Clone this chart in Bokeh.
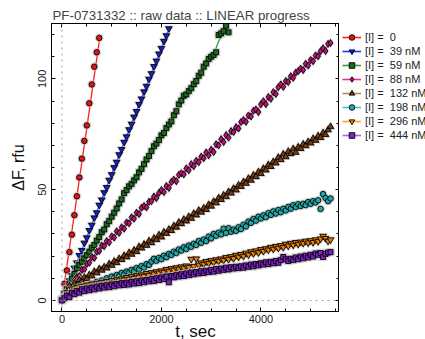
from bokeh.plotting import figure
from bokeh.layouts import row
from bokeh.models import (LinearAxis, Span, Legend, LegendItem, Range1d,
                          SingleIntervalTicker, CustomJSTickFormatter)
from bokeh.embed import file_html
from bokeh.resources import INLINE

TITLE = "PF-0731332 :: raw data :: LINEAR progress"
labels = ["[I] =  0", "[I] =  39 nM", "[I] =  59 nM", "[I] =  88 nM",
          "[I] =  132 nM", "[I] =  198 nM", "[I] =  296 nM", "[I] =  444 nM"]

# sampling times (s), every 50 s
t_all = list(range(0, 5401, 50))

y_0 = [0.5, 7.5, 13.5, 21.8, 29.7, 38.5, 47.0, 55.5, 64.0, 72.0, 79.0, 89.0,
       97.5, 105.5, 112.0, 118.5]
y_39 = [0.3, 3.2, 5.4, 8.9, 11.2, 14.6, 17.0, 20.3, 22.6, 25.9, 28.3, 31.6, 34.0,
        37.3, 39.6, 43.0, 45.4, 48.7, 51.0, 54.3, 56.8, 60.0, 62.4, 65.8, 68.2,
        71.4, 73.9, 77.1, 79.6, 82.8, 85.3, 88.5, 91.0, 94.2, 96.7, 99.9, 102.4,
        105.6, 108.1, 111.3, 113.8, 117.0, 119.5, 122.7]
y_59 = [0.5, 3.0, 5.0, 7.5, 9.8, 12.0, 14.5, 16.0, 17.5, 19.0, 20.5, 22.0, 23.8,
        25.0, 27.0, 28.6, 30.8, 32.0, 34.4, 35.8, 37.8, 39.6, 41.5, 43.8, 45.6,
        48.4, 49.8, 51.5, 52.6, 54.2, 55.6, 57.8, 59.4, 61.5, 63.6, 65.2, 67.4,
        69.6, 70.8, 72.4, 74.5, 75.6, 77.8, 79.4, 80.8, 83.6, 85.4, 88.5, 90.2,
        92.4, 93.0, 94.5, 95.8, 97.6, 99.0, 101.4, 102.8, 105.5, 107.0, 109.0,
        110.0, 110.8, 112.0, 119.8, 120.5, 121.5, 124.0, 121.0]
y_88 = [0.5, 2.8, 3.5, 6.0, 6.2, 9.0, 10.5, 11.0, 13.8, 14.0, 16.5, 17.0, 19.5,
        19.2, 22.0, 22.3, 24.8, 24.5, 26.8, 26.2, 28.9, 28.4, 31.2, 30.5, 33.0,
        32.4, 35.2, 34.8, 37.5, 36.9, 39.6, 39.0, 41.8, 42.6, 42.0, 44.5, 44.8,
        46.9, 46.2, 48.5, 49.8, 48.9, 51.6, 50.8, 53.4, 54.5, 53.8, 56.7, 57.4,
        56.9, 59.6, 58.8, 61.5, 60.6, 63.0, 62.4, 64.9, 64.2, 66.8, 65.5, 68.0,
        67.0, 70.5, 70.0, 72.8, 71.5, 74.6, 73.5, 76.4, 76.0, 78.2, 77.6, 80.5,
        81.4, 80.6, 83.5, 83.0, 85.6, 86.2, 85.0, 88.5, 89.9, 88.6, 91.8, 91.0,
        94.0, 93.2, 96.2, 97.5, 96.4, 99.0, 98.6, 101.2, 100.5, 102.8, 103.5,
        104.6, 104.0, 106.8, 106.0, 108.5, 108.0, 110.6, 110.2, 112.5, 113.8,
        112.6, 115.8, 116.2]
y_132 = [0.3, 2.5, 4.0, 6.5, 5.5, 7.8, 7.0, 9.2, 8.6, 10.4, 9.8, 11.5, 11.0, 13.0,
         12.4, 14.2, 13.6, 15.0, 14.6, 16.4, 15.8, 17.6, 17.0, 18.8, 18.4, 20.2,
         19.6, 21.5, 20.8, 22.6, 22.0, 24.2, 23.6, 25.3, 24.8, 26.8, 26.0, 28.0,
         27.4, 29.5, 28.6, 30.8, 30.2, 32.0, 31.5, 33.6, 33.0, 35.2, 34.6, 36.5,
         35.8, 37.8, 37.0, 39.2, 38.5, 40.6, 39.8, 41.6, 41.0, 43.2, 42.5, 44.6,
         44.0, 46.2, 45.5, 47.5, 46.8, 49.0, 48.4, 50.5, 49.8, 52.0, 51.4, 53.5,
         52.8, 55.0, 54.2, 56.5, 55.8, 58.0, 57.2, 59.5, 58.8, 61.2, 60.4, 62.6,
         62.0, 64.5, 63.5, 66.0, 64.8, 67.2, 66.2, 68.4, 66.8, 69.2, 68.5, 70.5,
         69.8, 71.6, 71.0, 73.0, 72.2, 74.2, 73.5, 75.6, 74.8, 77.0, 78.4]
y_198 = [0.5, 1.5, 2.8, 2.2, 4.0, 3.5, 5.0, 4.6, 6.2, 5.4, 6.8, 6.2, 7.5, 7.0, 8.4,
         7.8, 9.0, 8.6, 10.0, 9.4, 10.8, 10.2, 11.5, 11.0, 12.4, 11.8, 13.0, 12.6,
         13.8, 13.2, 14.6, 14.0, 15.5, 14.8, 16.4, 16.0, 17.5, 18.8, 17.9, 19.2,
         18.6, 20.2, 19.5, 21.0, 20.5, 22.0, 21.4, 23.0, 22.5, 24.0, 23.2, 24.8,
         24.2, 25.6, 25.0, 26.8, 26.0, 27.5, 26.8, 28.8, 28.0, 30.0, 29.2, 30.6,
         29.8, 32.4, 30.5, 32.6, 31.0, 32.0, 31.4, 33.0, 32.2, 34.2, 33.4, 35.6,
         35.0, 36.8, 36.0, 37.8, 37.0, 38.4, 37.6, 39.4, 38.6, 40.2, 39.2, 40.8,
         39.8, 41.4, 40.6, 42.2, 41.4, 43.0, 42.2, 43.4, 42.6, 43.6, 43.0, 44.4,
         43.6, 44.8, 44.2, 45.2, 41.3, 48.0, 46.2, 44.8, 46.0]
y_296 = [0.2, 1.5, 3.6, 3.0, 5.2, 4.4, 5.8, 5.0, 6.4, 5.6, 7.0, 6.2, 7.4, 6.6, 7.8,
         7.0, 8.2, 7.4, 8.6, 7.8, 9.0, 8.2, 9.4, 8.8, 9.8, 9.2, 10.4, 9.6, 10.8,
         10.0, 11.2, 10.6, 11.6, 11.0, 12.2, 11.4, 12.6, 12.0, 13.0, 12.4, 13.4,
         12.8, 14.0, 13.2, 14.4, 13.8, 14.8, 14.2, 15.2, 14.6, 15.6, 15.0, 18.6,
         15.4, 18.8, 16.0, 17.0, 16.4, 17.6, 16.8, 18.0, 17.2, 18.4, 17.8, 18.8,
         18.2, 19.4, 18.6, 19.8, 19.0, 20.4, 19.6, 20.8, 20.0, 21.4, 20.6, 22.0,
         21.2, 22.4, 21.6, 23.0, 22.2, 23.4, 22.8, 24.0, 23.2, 24.4, 23.6, 24.8,
         24.0, 25.4, 24.6, 25.8, 25.0, 26.2, 25.4, 26.4, 25.8, 26.8, 26.0, 27.0,
         26.2, 27.4, 26.6, 27.8, 29.0, 28.0, 26.8, 27.4]
y_444 = [0.0, 1.0, 2.2, 1.5, 3.4, 2.8, 4.2, 3.5, 5.0, 4.2, 5.4, 4.6, 5.8, 5.0, 6.2,
         5.4, 6.6, 5.8, 6.8, 6.0, 7.2, 6.4, 7.4, 6.8, 7.8, 7.0, 8.0, 7.2, 8.4, 7.6,
         8.6, 7.8, 9.0, 8.2, 9.2, 8.6, 9.6, 8.8, 10.0, 9.2, 10.4, 9.6, 10.8, 8.2,
         11.0, 10.4, 11.4, 10.8, 11.8, 11.0, 12.2, 11.4, 12.6, 11.8, 12.8, 12.2,
         13.2, 12.4, 13.4, 12.8, 13.8, 13.0, 14.2, 13.4, 14.4, 13.8, 14.8, 14.0,
         15.0, 14.4, 15.2, 14.6, 15.4, 14.8, 15.8, 15.2, 16.2, 15.4, 16.4, 15.8,
         16.8, 16.2, 17.2, 16.4, 17.4, 16.8, 17.8, 17.0, 18.2, 19.6, 18.6, 17.8,
         18.8, 18.2, 19.4, 18.6, 19.8, 19.0, 20.2, 19.4, 20.6, 19.8, 21.2, 20.6,
         21.4, 19.6, 21.0, 21.6, 21.8]

# fitted progress curves
fit_t_0 = [0, 760]
fit_y_0 = [0.0, 118.5]
fit_t_39 = [0, 2150]
fit_y_39 = [0.0, 122.7]
fit_t_59 = [0, 340, 670, 1010, 1260, 1500, 1865, 2200, 2450, 2800, 3050, 3150, 3350]
fit_y_59 = [0, 15, 26, 38, 48.5, 56, 69.5, 81, 91.5, 103, 111, 117, 124]
fit_t_88 = [0, 400, 800, 1200, 1600, 2000, 2400, 2800, 3200, 3600, 4000, 4400, 4800, 5200, 5400]
fit_y_88 = [0, 13, 24, 32, 41, 49, 57, 64, 72, 80, 88, 97, 104, 112, 116]
fit_t_132 = [0, 200, 400, 800, 1200, 1600, 2000, 2400, 2800, 3200, 3600, 4000, 4400, 4800, 5200, 5400]
fit_y_132 = [0, 5, 9, 14, 19, 24, 29, 35, 40, 46, 52, 58, 64.5, 69, 74, 77]
fit_t_198 = [0, 200, 500, 1000, 1400, 1700, 1900, 2400, 2800, 3150, 3300, 3600, 3900, 4200, 4600, 5000, 5150, 5250, 5400]
fit_y_198 = [0, 3.5, 6, 10, 13, 15.5, 18, 23, 26.5, 30, 31.5, 32.5, 36.5, 39, 41.5, 43.5, 44.5, 48, 46]
fit_t_296 = [0, 100, 200, 470, 800, 1150, 1500, 1865, 2200, 2500, 2650, 3000, 3350, 3620, 4000, 4300, 4620, 5000, 5250, 5400]
fit_y_296 = [0, 3, 5, 6.2, 7.6, 9, 10.8, 12.2, 13.6, 14.8, 15.8, 17.2, 18.6, 19.8, 22.2, 23.5, 25, 26.3, 27.5, 27.2]
fit_t_444 = [0, 100, 470, 800, 1150, 1700, 2000, 2470, 3150, 3620, 4150, 4620, 5165, 5400]
fit_y_444 = [0, 1.8, 4.6, 5.9, 7, 8.6, 9.8, 11.3, 13.6, 15, 16.6, 18.3, 20.5, 21.5]

data_y = [y_0, y_39, y_59, y_88, y_132, y_198, y_296, y_444]
fits = [(fit_t_0, fit_y_0), (fit_t_39, fit_y_39), (fit_t_59, fit_y_59),
        (fit_t_88, fit_y_88), (fit_t_132, fit_y_132), (fit_t_198, fit_y_198),
        (fit_t_296, fit_y_296), (fit_t_444, fit_y_444)]

markers = ["circle", "inverted_triangle", "square", "diamond", "triangle",
           "circle", "inverted_triangle", "square"]
msizes = [5.5, 6.5, 5, 7, 6.5, 5.5, 6.5, 5]
fill_colors = ["#ee1111", "#1122dd", "#1a6a1a", "#c0107a", "#7a3c10",
               "#20a8a8", "#f08000", "#8020c8"]
line_colors = ["#ff2020", "#2233ff", "#3a9a3a", "#e0309a", "#c08a5a",
               "#40c8c8", "#ffa030", "#b060f0"]

FONT = "Liberation Sans"

p = figure(frame_width=288, frame_height=288, output_backend="svg",
           toolbar_location=None,
           x_range=Range1d(-210, 5580), y_range=Range1d(-5, 125),
           min_border_left=51, min_border_right=0, min_border_top=23,
           min_border_bottom=28, title=TITLE)
p.title.text_font = FONT
p.title.text_font_size = "13.3px"
p.title.text_font_style = "normal"
p.title.align = "left"
p.title.offset = 1
p.title.standoff = 2

p.grid.visible = False
p.outline_line_color = "black"
p.outline_line_width = 1
p.background_fill_color = "white"
p.border_fill_color = "white"

xt = SingleIntervalTicker(interval=2000, num_minor_ticks=4)
yt = SingleIntervalTicker(interval=50, num_minor_ticks=5)
p.xaxis.ticker = xt
p.yaxis.ticker = yt

for ax in (p.xaxis[0], p.yaxis[0]):
    ax.major_tick_in = 4
    ax.major_tick_out = 0
    ax.minor_tick_in = 3
    ax.minor_tick_out = 0
    ax.axis_line_color = "black"
    ax.major_label_text_font = FONT
    ax.major_label_text_font_size = "11px"
    ax.major_label_text_color = "#222222"
    ax.axis_label_text_font = FONT
    ax.axis_label_text_font_style = "normal"
    ax.axis_label_text_color = "#111111"

p.xaxis.axis_label = "t, sec"
p.xaxis.axis_label_text_font_size = "17px"
p.xaxis.major_label_standoff = 3
p.xaxis.axis_label_standoff = -4
p.yaxis.axis_label = "ΔF, rfu"
p.yaxis.axis_label_text_font_size = "16px"
p.yaxis.major_label_orientation = "vertical"
p.yaxis.major_label_standoff = 5
p.yaxis.axis_label_standoff = 9

blank = CustomJSTickFormatter(code="return ''")
top_ax = LinearAxis(ticker=xt, formatter=blank, major_tick_in=4, major_tick_out=0,
                    minor_tick_in=3, minor_tick_out=0, major_label_standoff=0)
right_ax = LinearAxis(ticker=yt, formatter=blank, major_tick_in=4, major_tick_out=0,
                      minor_tick_in=3, minor_tick_out=0, major_label_standoff=0)
p.add_layout(top_ax, "above")
p.add_layout(right_ax, "right")

p.add_layout(Span(location=0, dimension="height", line_color="#9a9a9a",
                  line_dash="dotted", line_width=1))
p.add_layout(Span(location=0, dimension="width", line_color="#9a9a9a",
                  line_dash="dotted", line_width=1))

# legend panel: a separate, axis-free figure beside the plot; its ranges lie
# away from the data, so its renderers only serve as legend glyphs
lg = figure(width=86, height=339, output_backend="svg", toolbar_location=None,
            min_border=0, x_range=Range1d(-1000, -999), y_range=Range1d(-1000, -999))
lg.axis.visible = False
lg.grid.visible = False
lg.outline_line_color = None
lg.title.visible = False

items = []
for i in range(8):
    ys = data_y[i]
    ts = t_all[:len(ys)]
    ft, fy = fits[i]
    p.line(ft, fy, line_color=line_colors[i], line_width=1.3)
    p.scatter(ts, ys, marker=markers[i], size=msizes[i] + 2.5,
              fill_color="#c0c0c0", line_color="#c0c0c0", alpha=0.5)
    p.scatter(ts, ys, marker=markers[i], size=msizes[i],
              fill_color=fill_colors[i], line_color="black", line_width=0.9)
    lr = lg.line(ft, fy, line_color=line_colors[i], line_width=1.6)
    sr = lg.scatter(ts, ys, marker=markers[i], size=msizes[i] + 1,
                    fill_color=fill_colors[i], line_color="black", line_width=0.9)
    items.append(LegendItem(label=labels[i], renderers=[lr, sr]))

legend = Legend(items=items)
legend.label_text_font = FONT
legend.label_text_font_size = "11px"
legend.label_text_color = "#222222"
legend.glyph_width = 19
legend.glyph_height = 14
legend.label_height = 14
legend.label_standoff = 4
legend.spacing = 0
legend.padding = 1
legend.margin = 0
legend.border_line_alpha = 0
legend.background_fill_alpha = 0
legend.location = (2, 164)
lg.add_layout(legend, "center")

open("out.html", "w").write(file_html(row(p, lg), INLINE))
